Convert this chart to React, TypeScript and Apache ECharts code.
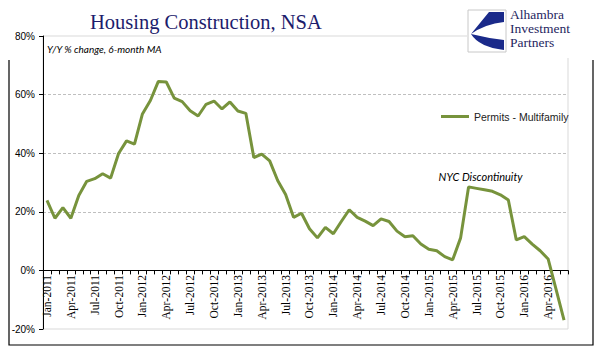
import React, { useEffect, useRef } from "react";
import * as echarts from "echarts";

const months = ["Jan", "Feb", "Mar", "Apr", "May", "Jun", "Jul", "Aug", "Sep", "Oct", "Nov", "Dec"];
const years = [2011, 2012, 2013, 2014, 2015, 2016];

const permitsMultifamily = [
  23.9, 17.8, 21.4, 17.8, 25.6, 30.4, 31.3, 33.0, 31.5, 39.9, 44.2, 43.1,
  53.4, 58.0, 64.5, 64.3, 58.8, 57.6, 54.5, 52.7, 56.7, 57.8, 55.1, 57.5,
  54.4, 53.6, 38.5, 39.7, 37.4, 30.7, 25.9, 18.1, 19.5, 14.2, 11.1, 14.7,
  12.5, 16.7, 20.7, 18.1, 16.8, 15.3, 17.6, 16.7, 13.4, 11.5, 11.8, 9.0,
  7.2, 6.7, 4.7, 3.6, 11.1, 28.5, 28.0, 27.5, 27.0, 25.8, 24.0, 10.4,
  11.5, 9.0, 6.7, 3.9, -6.5, -17.0,
];

const categories = years
  .flatMap((y) => months.map((m) => `${m}-${y}`))
  .slice(0, permitsMultifamily.length);

const yTicks = { min: -20, max: 80, interval: 20 };
const seriesName = "Permits - Multifamily";
const annotation = { text: "NYC Discontinuity", at: "Jun-2015" };
const logoLines = ["Alhambra", "Investment", "Partners"];

const logoPath =
  "M20,1 L35,1 L35,11 Q16,13 2,23 Z M2,23 Q18,27 35,29 L35,39 Q10,36 2,23 Z";
echarts.graphic.registerShape("aipLogo", echarts.graphic.extendPath(logoPath, {}));

export default function App() {
  const ref = useRef<HTMLDivElement>(null);
  useEffect(() => {
    document.body.style.margin = "0";
    if (!ref.current) return;
    const chart = echarts.init(ref.current, null, { renderer: "svg" });
    const annIdx = categories.indexOf(annotation.at);
    chart.setOption({
      animation: false,
      backgroundColor: "#fff",
      grid: {
        left: 43,
        right: 37,
        top: 36,
        bottom: 32,
        containLabel: false,
        outerBoundsMode: "none",
        show: true,
        borderColor: "#d9d9d9",
        borderWidth: 1,
        backgroundColor: "transparent",
      },
      legend: {
        data: [seriesName],
        left: 436,
        top: 106,
        icon: "rect",
        itemWidth: 28,
        itemHeight: 3,
        textStyle: { fontFamily: "Liberation Sans", fontSize: 10.5, color: "#222" },
      },
      xAxis: {
        type: "category",
        data: categories,
        boundaryGap: true,
        axisLine: { onZero: true, lineStyle: { color: "#000", width: 1 } },
        axisTick: { show: true, interval: 0, length: 4, lineStyle: { color: "#000" } },
        axisLabel: {
          interval: 2,
          rotate: 90,
          fontFamily: "Liberation Serif",
          fontSize: 11.5,
          color: "#000",
          margin: -54,
        },
        splitLine: { show: false },
      },
      yAxis: {
        type: "value",
        min: yTicks.min,
        max: yTicks.max,
        interval: yTicks.interval,
        axisLine: { show: true, lineStyle: { color: "#000" } },
        axisTick: { show: true, length: 4, lineStyle: { color: "#000" } },
        axisLabel: {
          formatter: "{value}%",
          fontFamily: "Liberation Sans",
          fontSize: 10,
          color: "#000",
          margin: 8,
        },
        splitLine: {
          show: true,
          showMinLine: false,
          showMaxLine: false,
          lineStyle: { color: "#bfbfbf", type: [3, 2], width: 1 },
        },
      },
      series: [
        {
          type: "line",
          name: seriesName,
          data: permitsMultifamily,
          symbol: "none",
          showSymbol: false,
          lineStyle: { color: "#77933C", width: 3 },
          itemStyle: { color: "#77933C" },
          markPoint: {
            symbol: "circle",
            symbolSize: 1,
            itemStyle: { color: "rgba(0,0,0,0)" },
            data: [
              {
                coord: [annIdx, permitsMultifamily[annIdx]],
                label: {
                  show: true,
                  position: "top",
                  distance: 4,
                  offset: [12, 0],
                  formatter: annotation.text,
                  fontFamily: "Lato",
                  fontStyle: "italic",
                  fontSize: 11,
                  color: "#000",
                },
              },
            ],
          },
        },
      ],
      graphic: [
        {
          type: "polyline",
          shape: { points: [[9, 60], [9, 345], [593, 345], [593, 60]] },
          style: { stroke: "#000", lineWidth: 1.2, fill: "none" },
          silent: true,
          z: 100,
        },
        {
          type: "rect",
          shape: { x: 467, y: 0, width: 138, height: 58 },
          style: { fill: "#fff" },
          silent: true,
          z: 100,
        },
        {
          type: "text",
          x: 90,
          y: 11,
          z: 101,
          style: {
            text: "Housing Construction, NSA",
            font: "20.5px 'Liberation Serif'",
            fill: "#1c1c6c",
          },
        },
        {
          type: "text",
          x: 47,
          y: 44,
          z: 101,
          style: {
            text: "Y/Y % change, 6-month MA",
            font: "italic 10px Lato",
            fill: "#000",
          },
        },
        {
          type: "rect",
          shape: { x: 468, y: 10, width: 38, height: 42 },
          style: { fill: "#fff", stroke: "#c8c8c8", lineWidth: 1 },
          z: 101,
        },
        {
          type: "aipLogo",
          x: 469,
          y: 11,
          scaleX: 1,
          scaleY: 1,
          z: 102,
          style: { fill: "#1a2a8a" },
        },
        ...logoLines.map((t, i) => ({
          type: "text",
          x: 510,
          y: 7 + i * 14,
          z: 102,
          style: { text: t, font: "13.5px 'Liberation Serif'", fill: "#1f1f5f" },
        })),
      ],
    });
    return () => chart.dispose();
  }, []);
  return <div ref={ref} style={{ width: 605, height: 361 }} />;
}
